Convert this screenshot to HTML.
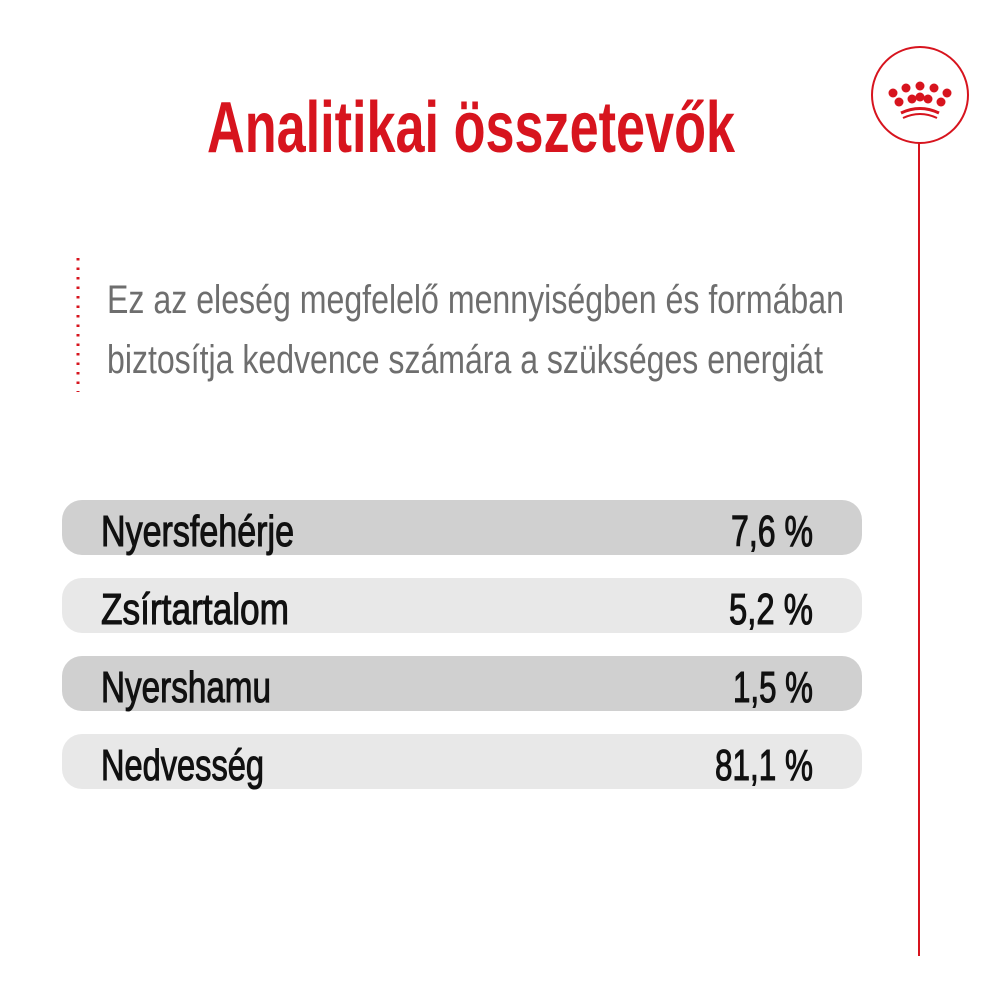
<!DOCTYPE html>
<html><head><meta charset="utf-8"><style>html,body{margin:0;padding:0;background:#fff}</style></head>
<body>
<svg width="1000" height="1000" xmlns="http://www.w3.org/2000/svg" font-family="Liberation Sans, sans-serif">
<rect width="1000" height="1000" fill="#fff"/>
<text x="207" y="152" font-size="72" font-weight="bold" fill="#d7141e" textLength="528" lengthAdjust="spacingAndGlyphs">Analitikai összetevők</text>
<line x1="78" y1="258" x2="78" y2="392" stroke="#d7141e" stroke-width="3" stroke-dasharray="2.5,7"/>
<text x="107" y="313" font-size="40" fill="#6e6e6e" textLength="737" lengthAdjust="spacingAndGlyphs">Ez az eleség megfelelő mennyiségben és formában</text>
<text x="107" y="373" font-size="40" fill="#6e6e6e" textLength="716" lengthAdjust="spacingAndGlyphs">biztosítja kedvence számára a szükséges energiát</text>
<circle cx="920" cy="95" r="48" fill="none" stroke="#d7141e" stroke-width="2"/>
<line x1="919" y1="143" x2="919" y2="956" stroke="#d7141e" stroke-width="2"/>
<g fill="#d7141e">
<circle cx="893" cy="93" r="4.5"/><circle cx="906" cy="88" r="4.5"/><circle cx="920" cy="86" r="4.5"/><circle cx="934" cy="88" r="4.5"/><circle cx="947" cy="93" r="4.5"/>
<circle cx="899" cy="102" r="4.5"/><circle cx="912" cy="99" r="4.5"/><circle cx="928" cy="99" r="4.5"/><circle cx="941" cy="102" r="4.5"/><circle cx="920" cy="97" r="4.5"/>
</g>
<path d="M901 113 Q920 104 939 113" fill="none" stroke="#d7141e" stroke-width="3"/>
<path d="M903 118 Q920 110 937 118" fill="none" stroke="#d7141e" stroke-width="2"/>
<rect x="62" y="500" width="800" height="55" rx="20" fill="#d0d0d0"/>
<rect x="62" y="578" width="800" height="55" rx="20" fill="#e8e8e8"/>
<rect x="62" y="656" width="800" height="55" rx="20" fill="#d0d0d0"/>
<rect x="62" y="734" width="800" height="55" rx="20" fill="#e8e8e8"/>
<g font-size="44" fill="#111" stroke="#111" stroke-width="1.1">
<text x="101" y="546" textLength="193" lengthAdjust="spacingAndGlyphs">Nyersfehérje</text>
<text x="101" y="624" textLength="188" lengthAdjust="spacingAndGlyphs">Zsírtartalom</text>
<text x="101" y="702" textLength="170" lengthAdjust="spacingAndGlyphs">Nyershamu</text>
<text x="101" y="780" textLength="163" lengthAdjust="spacingAndGlyphs">Nedvesség</text>
<text x="813" y="546" text-anchor="end" textLength="82" lengthAdjust="spacingAndGlyphs">7,6 %</text>
<text x="813" y="624" text-anchor="end" textLength="84" lengthAdjust="spacingAndGlyphs">5,2 %</text>
<text x="813" y="702" text-anchor="end" textLength="80" lengthAdjust="spacingAndGlyphs">1,5 %</text>
<text x="813" y="780" text-anchor="end" textLength="98" lengthAdjust="spacingAndGlyphs">81,1 %</text>
</g>
</svg>
</body></html>
